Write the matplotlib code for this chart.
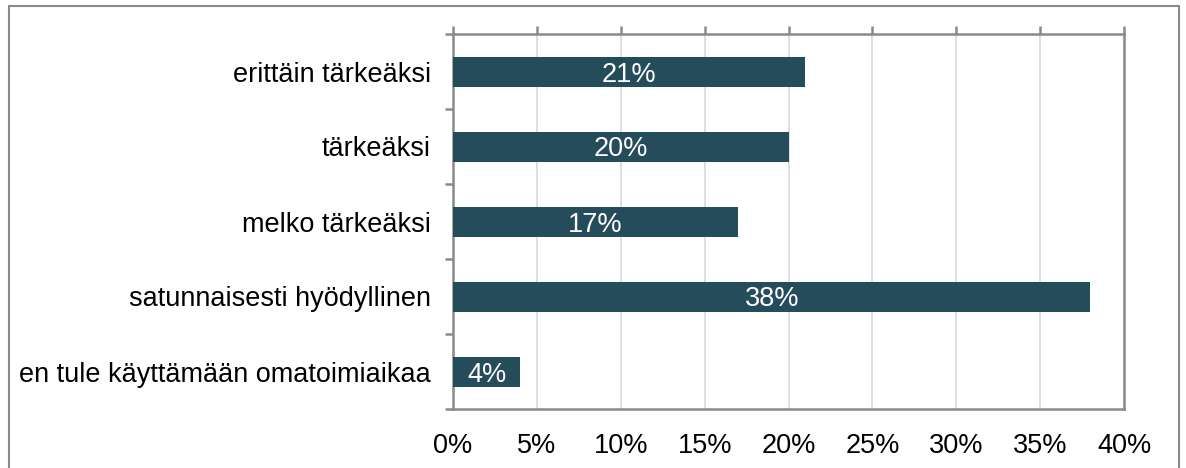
import matplotlib.pyplot as plt
from matplotlib.patches import Rectangle
from matplotlib.ticker import FuncFormatter, MultipleLocator
import numpy as np

# Answer categories (top to bottom) and their shares in percent
categories = [
    'erittäin tärkeäksi',
    'tärkeäksi',
    'melko tärkeäksi',
    'satunnaisesti hyödyllinen',
    'en tule käyttämään omatoimiaikaa',
]
shares = [21, 20, 17, 38, 4]

bar_color = '#244C5A'
frame_color = '#8A8A8A'
fs = 19.5

plt.rcParams['font.family'] = ['Liberation Sans', 'DejaVu Sans']

fig = plt.figure(figsize=(11.86, 4.68), dpi=100)
ax = fig.add_axes([453 / 1186, 1 - 409 / 468, (1124 - 453) / 1186, (409 - 34) / 468])

y = np.arange(len(categories))
bars = ax.barh(y, shares, height=0.4, color=bar_color, zorder=3)

for rect, val in zip(bars, shares):
    ax.text(rect.get_width() / 2, rect.get_y() + rect.get_height() / 2, f'{val}%',
            ha='center', va='center_baseline', color='white', fontsize=fs, zorder=4)

ax.set_xlim(0, 40)
ax.set_ylim(len(categories) - 0.5, -0.5)
ax.xaxis.set_major_locator(MultipleLocator(5))
ax.xaxis.set_major_formatter(FuncFormatter(lambda v, _: f'{v:.0f}%'))
ax.grid(axis='x', color='#DCDCDC', linewidth=1.3, zorder=0)

# x ticks drawn on the top spine, labels kept at the bottom
ax.tick_params(axis='x', which='major', top=True, bottom=False, labeltop=False,
               labelbottom=True, direction='out', length=6, width=1.8,
               color=frame_color, labelsize=fs, pad=11)

# category labels without ticks, boundary ticks as minor ticks
ax.set_yticks(y)
ax.set_yticklabels(categories)
ax.set_yticks(np.arange(-0.5, len(categories)), minor=True)
ax.tick_params(axis='y', which='major', length=0, labelsize=fs, pad=16)
ax.tick_params(axis='y', which='minor', length=6, width=1.8, color=frame_color)

for side in ['left', 'right', 'top', 'bottom']:
    ax.spines[side].set_color(frame_color)
    ax.spines[side].set_linewidth(1.8)

# thin border around the whole chart, open at the bottom
fig.patches.append(Rectangle((8.5 / 1186, -0.1), (1179 - 8.5) / 1186, 1.1 - 6.5 / 468,
                             transform=fig.transFigure, fill=False,
                             edgecolor=frame_color, linewidth=1.5))

fig.savefig('out.png', dpi=100)
